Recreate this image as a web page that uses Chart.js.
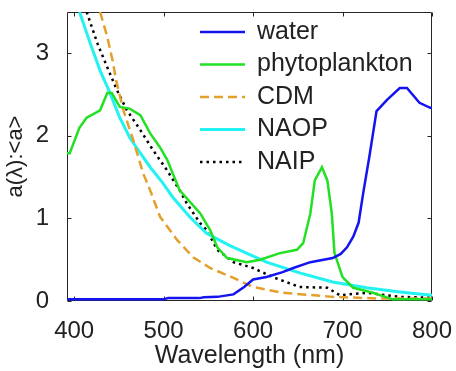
<!DOCTYPE html>
<html>
<head>
<meta charset="utf-8">
<script src="https://cdn.jsdelivr.net/npm/chart.js@4/dist/chart.umd.min.js"></script>
<style>
  html, body { margin: 0; padding: 0; background: #fff; }
  canvas { display: block; }
</style>
</head>
<body>
<canvas id="absChart" width="456" height="371"></canvas>
<script>
// Absorption spectra normalised by their mean
const seriesNames = ['water', 'phytoplankton', 'CDM', 'NAOP', 'NAIP'];
const xTicks = [400, 500, 600, 700, 800];
const yTicks = [0, 1, 2, 3];

const wlWater = [392, 500, 505, 540, 545, 560, 578, 590, 600, 615, 633, 645, 664, 689, 698, 705, 712, 718, 723, 730, 738, 750, 764, 772, 786, 798, 800];
const aWater = [0.02, 0.02, 0.035, 0.035, 0.045, 0.05, 0.08, 0.17, 0.26, 0.29, 0.35, 0.4, 0.47, 0.52, 0.57, 0.65, 0.78, 0.95, 1.3, 1.75, 2.3, 2.44, 2.58, 2.58, 2.4, 2.34, 2.34];

const wlPhyto = [392, 395, 406, 414, 429, 437, 442, 451, 462, 474, 485, 496, 504, 518, 541, 552, 560, 571, 593, 608, 630, 649, 656, 664, 669, 677, 683, 688, 691, 700, 712, 734, 756, 800];
const aPhyto = [1.79, 1.79, 2.1, 2.22, 2.31, 2.52, 2.52, 2.35, 2.33, 2.25, 2.03, 1.86, 1.71, 1.34, 1.06, 0.86, 0.65, 0.52, 0.47, 0.5, 0.58, 0.62, 0.7, 1.06, 1.46, 1.62, 1.46, 1.06, 0.58, 0.29, 0.16, 0.1, 0.02, 0.02];

const wlCdm = [429, 437, 443, 447, 455, 466, 477, 485, 496, 515, 533, 552, 578, 600, 633, 689, 742, 800];
const aCdm = [3.5, 3.2, 2.91, 2.67, 2.31, 1.95, 1.55, 1.34, 1.02, 0.74, 0.53, 0.4, 0.28, 0.17, 0.1, 0.05, 0.03, 0.03];

const wlNaop = [406, 418, 429, 440, 451, 462, 474, 485, 499, 510, 529, 548, 574, 615, 652, 689, 727, 764, 800];
const aNaop = [3.5, 3.12, 2.79, 2.52, 2.22, 1.98, 1.79, 1.62, 1.43, 1.26, 1.02, 0.82, 0.67, 0.47, 0.34, 0.23, 0.16, 0.11, 0.07];

const wlNaip = [414, 426, 437, 448, 459, 474, 488, 504, 518, 526, 541, 548, 560, 571, 578, 600, 622, 652, 683, 697, 727, 764, 800];
const aNaip = [3.5, 3.12, 2.83, 2.55, 2.31, 2.07, 1.83, 1.58, 1.34, 1.18, 0.94, 0.86, 0.62, 0.53, 0.47, 0.4, 0.29, 0.17, 0.16, 0.07, 0.1, 0.05, 0.04];

function pts(xs, ys) {
  return xs.map((x, i) => ({ x: x, y: ys[i] }));
}

const textColor = '#222';
const fontFamily = '"Liberation Sans", Arial, sans-serif';

// matlab-ish box with inward ticks on all four sides (under the data, like Layer='bottom')
const boxPlugin = {
  id: 'box',
  beforeDatasetsDraw(chart) {
    const ctx = chart.ctx;
    const a = chart.chartArea;
    const xs = chart.scales.x;
    const ys = chart.scales.y;
    const l = Math.round(a.left) + 0.5, r = Math.round(a.right) - 0.5;
    const t = Math.round(a.top) + 0.5, b = Math.round(a.bottom) - 0.5;
    ctx.save();
    ctx.setLineDash([]);
    ctx.strokeStyle = '#262626';
    ctx.lineWidth = 1;
    ctx.beginPath();
    ctx.moveTo(l, t); ctx.lineTo(r, t); ctx.lineTo(r, b); ctx.lineTo(l, b); ctx.closePath();
    xTicks.forEach(v => {
      const px = Math.round(xs.getPixelForValue(v)) + 0.5;
      ctx.moveTo(px, b); ctx.lineTo(px, b - 4);
      ctx.moveTo(px, t); ctx.lineTo(px, t + 4);
    });
    yTicks.forEach(v => {
      const py = Math.round(ys.getPixelForValue(v)) + 0.5;
      ctx.moveTo(l, py); ctx.lineTo(l + 4, py);
      ctx.moveTo(r, py); ctx.lineTo(r - 4, py);
    });
    ctx.stroke();
    ctx.restore();
  }
};

// legend drawn inside the axes, upper right
const innerLegend = {
  id: 'innerLegend',
  afterDatasetsDraw(chart) {
    const ctx = chart.ctx;
    ctx.save();
    ctx.font = '25px ' + fontFamily;
    ctx.textBaseline = 'middle';
    chart.data.datasets.forEach((ds, i) => {
      const y = 32 + i * 32.5;
      ctx.strokeStyle = ds.borderColor;
      ctx.lineWidth = ds.borderWidth;
      ctx.setLineDash(ds.borderDash || []);
      ctx.beginPath();
      ctx.moveTo(200, y);
      ctx.lineTo(245, y);
      ctx.stroke();
      ctx.setLineDash([]);
      ctx.fillStyle = textColor;
      ctx.fillText(ds.label, 257, y);
    });
    ctx.restore();
  }
};

const ctx = document.getElementById('absChart').getContext('2d');
new Chart(ctx, {
  type: 'line',
  data: {
    datasets: [
      { label: seriesNames[0], data: pts(wlWater, aWater), borderColor: '#1414f0', borderWidth: 2.5 },
      { label: seriesNames[1], data: pts(wlPhyto, aPhyto), borderColor: '#22e022', borderWidth: 2.5 },
      { label: seriesNames[2], data: pts(wlCdm, aCdm), borderColor: '#e3a02a', borderWidth: 2.5, borderDash: [9, 5] },
      { label: seriesNames[3], data: pts(wlNaop, aNaop), borderColor: '#22f2f2', borderWidth: 3 },
      { label: seriesNames[4], data: pts(wlNaip, aNaip), borderColor: '#000000', borderWidth: 2.5, borderDash: [2.5, 4] },
    ],
  },
  options: {
    responsive: false,
    animation: false,
    devicePixelRatio: 1,
    layout: { padding: { top: 12, right: 24, left: 0, bottom: 0 } },
    elements: {
      point: { radius: 0 },
      line: { tension: 0, fill: false },
    },
    plugins: {
      legend: { display: false },
      tooltip: { enabled: false },
    },
    scales: {
      x: {
        type: 'linear',
        min: 392,
        max: 800,
        afterBuildTicks(scale) { scale.ticks = xTicks.map(v => ({ value: v })); },
        afterFit(scale) {
          scale.height = 70;
          scale.paddingLeft = 0;
          scale.paddingRight = 0;
        },
        grid: { display: false },
        border: { display: false },
        ticks: { color: textColor, font: { family: fontFamily, size: 24 }, padding: 8, maxRotation: 0 },
        title: { display: true, text: 'Wavelength (nm)', color: textColor, font: { family: fontFamily, size: 25 }, padding: 0 },
      },
      y: {
        min: 0,
        max: 3.5,
        afterBuildTicks(scale) { scale.ticks = yTicks.map(v => ({ value: v })); },
        afterFit(scale) {
          scale.width = 67;
          scale.paddingTop = 0;
          scale.paddingBottom = 0;
        },
        grid: { display: false },
        border: { display: false },
        ticks: { color: textColor, font: { family: fontFamily, size: 24 }, padding: 10 },
        title: { display: true, text: 'a(λ):<a>', color: textColor, font: { family: fontFamily, size: 22 }, padding: { top: 3 } },
      },
    },
  },
  plugins: [boxPlugin, innerLegend],
});
</script>
</body>
</html>
